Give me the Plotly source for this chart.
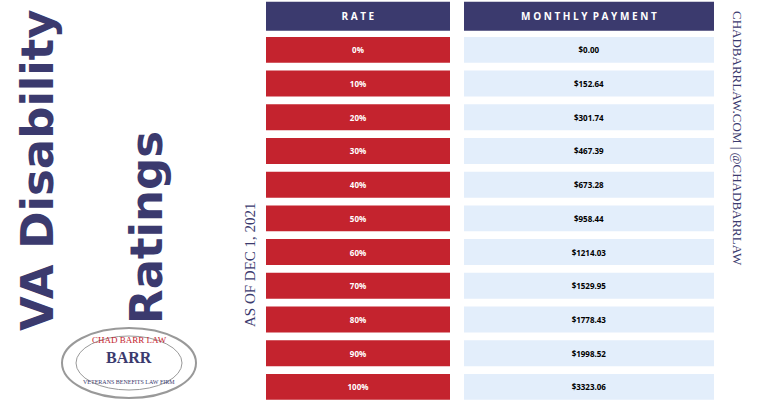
import plotly.graph_objects as go

rates = ["0%", "10%", "20%", "30%", "40%", "50%", "60%", "70%", "80%", "90%", "100%"]
payments = ["$0.00", "$152.64", "$301.74", "$467.39", "$673.28", "$958.44",
            "$1214.03", "$1529.95", "$1778.43", "$1998.52", "$3323.06"]
headers = ["R A T E", "M O N T H L Y  P A Y M E N T"]

NAVY = "#3b3a6e"
RED = "#c4232e"
LIGHT = "#e3eefb"

rows = list(range(1, len(rates) + 1))

fig = go.Figure()
# header bars
fig.add_trace(go.Bar(y=[0, 0], x=[184, 250], base=[266, 464], orientation="h",
                     width=0.86, marker=dict(color=NAVY, line_width=0),
                     text=["<b>%s</b>" % h for h in headers], textposition="inside",
                     insidetextanchor="middle",
                     textfont=dict(color="white", size=10, family="Open Sans"),
                     hoverinfo="skip"))
fig.add_trace(go.Bar(y=rows, x=[184] * len(rows), base=266, orientation="h",
                     width=0.77, marker=dict(color=RED, line_width=0),
                     text=["<b>%s</b>" % r for r in rates], textposition="inside",
                     insidetextanchor="middle",
                     textfont=dict(color="white", size=8, family="Open Sans"),
                     hoverinfo="skip"))
fig.add_trace(go.Bar(y=rows, x=[250] * len(rows), base=464, orientation="h",
                     width=0.77, marker=dict(color=LIGHT, line_width=0),
                     text=["<b>%s</b>" % p for p in payments], textposition="inside",
                     insidetextanchor="middle",
                     textfont=dict(color="black", size=8, family="Open Sans"),
                     hoverinfo="skip"))

ann = [
    dict(x=37, y=170, text="<b>VA Disability</b>", textangle=-90, font=dict(size=45, color=NAVY, family="DejaVu Sans")),
    dict(x=146, y=228, text="<b>Ratings</b>", textangle=-90, font=dict(size=45, color=NAVY, family="DejaVu Sans")),
    dict(x=250, y=265, text="AS OF DEC 1, 2021", textangle=-90, font=dict(size=15, color=NAVY, family="Liberation Serif")),
    dict(x=738, y=138, text="CHADBARRLAW.COM | @CHADBARRLAW", textangle=90, font=dict(size=13, color=NAVY, family="Liberation Serif")),
    dict(x=129, y=340, text="CHAD BARR LAW", font=dict(size=9, color=RED, family="Liberation Serif")),
    dict(x=129, y=357, text="<b>BARR</b>", font=dict(size=16, color=NAVY, family="Liberation Serif")),
    dict(x=129, y=382, text="VETERANS BENEFITS LAW FIRM", font=dict(size=6, color=NAVY, family="Liberation Serif")),
]
for a in ann:
    a.update(xref="x", yref="y2", showarrow=False)
fig.update_layout(annotations=ann)

fig.add_shape(type="circle", xref="x", yref="y2", x0=62, x1=196, y0=328, y1=398,
              line=dict(color="#999999", width=2))
fig.add_shape(type="circle", xref="x", yref="y2", x0=76, x1=182, y0=336, y1=390,
              line=dict(color="#999999", width=1))

fig.update_layout(
    width=760, height=400, margin=dict(l=0, r=0, t=0, b=0),
    paper_bgcolor="white", plot_bgcolor="white", showlegend=False, barmode="overlay",
    xaxis=dict(range=[0, 760], visible=False, fixedrange=True),
    yaxis=dict(range=[11.39, -0.48], visible=False),
    yaxis2=dict(range=[400, 0], visible=False, overlaying="y"),
)
fig.write_html("out.html", config={"displayModeBar": False},
               post_script="document.body.style.margin='0';document.body.style.overflow='hidden';")
